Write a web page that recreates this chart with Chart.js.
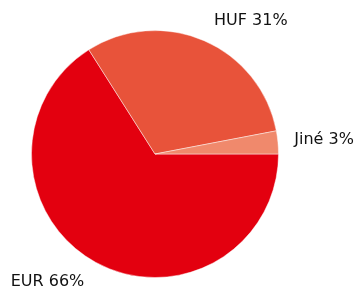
<!DOCTYPE html>
<html>
<head>
<meta charset="utf-8">
<script src="https://cdn.jsdelivr.net/npm/chart.js@4/dist/chart.umd.min.js"></script>
<style>
  html, body { margin: 0; padding: 0; background: #fff; }
  #wrap { width: 358px; height: 291px; }
</style>
</head>
<body>
<div id="wrap"><canvas id="chart"></canvas></div>
<script>
const labels = ["EUR", "HUF", "Jiné"];
const values = [66, 31, 3];
const colors = ["#e3000f", "#e8533a", "#f0896c"];

// popisky vně výseče, bez spojovacích čar
const outerLabels = {
  id: "outerLabels",
  afterDatasetsDraw(chart) {
    const ctx = chart.ctx;
    const meta = chart.getDatasetMeta(0);
    ctx.save();
    ctx.font = "16px 'DejaVu Sans', sans-serif";
    ctx.fillStyle = "#111";
    ctx.textBaseline = "middle";
    meta.data.forEach(function (arc, i) {
      const mid = (arc.startAngle + arc.endAngle) / 2;
      const r = arc.outerRadius + 16;
      const cos = Math.cos(mid), sin = Math.sin(mid);
      const x = arc.x + cos * r - sin * 4;
      const y = arc.y + sin * r + sin * 6;
      ctx.textAlign = cos >= 0 ? "left" : "right";
      ctx.fillText(labels[i] + " " + values[i] + "%", x, y);
    });
    ctx.restore();
  }
};

new Chart(document.getElementById("chart"), {
  type: "pie",
  data: {
    labels: labels,
    datasets: [{
      data: values,
      backgroundColor: colors,
      borderColor: "rgba(255,255,255,0.45)",
      borderWidth: 1
    }]
  },
  options: {
    responsive: true,
    maintainAspectRatio: false,
    animation: false,
    rotation: 90,
    layout: { padding: { left: 31, top: 30, right: 79, bottom: 13 } },
    plugins: {
      legend: { display: false },
      tooltip: { enabled: false }
    }
  },
  plugins: [outerLabels]
});
</script>
</body>
</html>
